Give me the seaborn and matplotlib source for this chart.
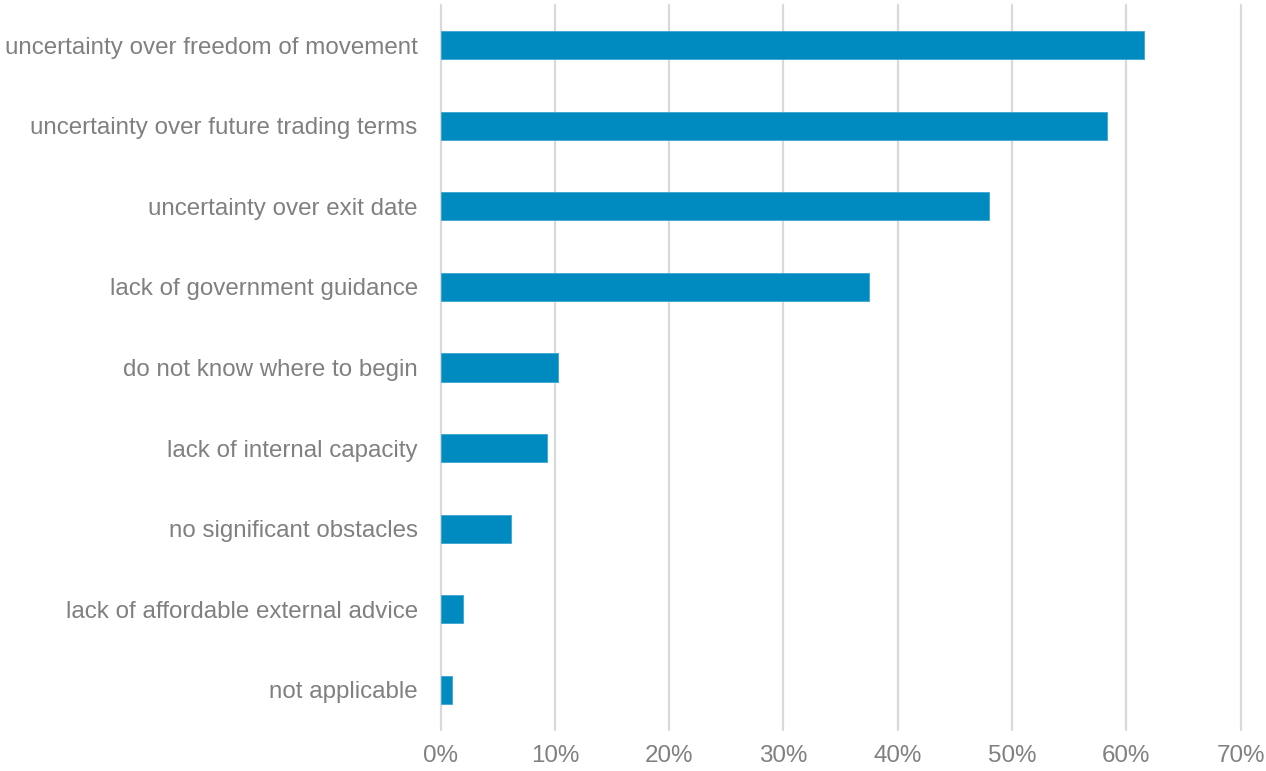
import matplotlib
matplotlib.use("Agg")
import matplotlib.pyplot as plt
from matplotlib.ticker import PercentFormatter
import seaborn as sns
import pandas as pd

obstacles = [
    "uncertainty over freedom of movement",
    "uncertainty over future trading terms",
    "uncertainty over exit date",
    "lack of government guidance",
    "do not know where to begin",
    "lack of internal capacity",
    "no significant obstacles",
    "lack of affordable external advice",
    "not applicable",
]
share = [61.5, 58.3, 48.0, 37.5, 10.3, 9.3, 6.2, 2.0, 1.0]
x_ticks = [0, 10, 20, 30, 40, 50, 60, 70]

df = pd.DataFrame({"obstacle": obstacles, "share": share})

sns.set_theme(style="white")
plt.rcParams["font.family"] = ["Liberation Sans", "DejaVu Sans"]

fig = plt.figure(figsize=(12.66, 7.71), dpi=100)
ax = fig.add_axes([0.348, 0.0532, 0.632, 0.9403])

sns.barplot(data=df, x="share", y="obstacle", orient="h", color="#008bc0",
            saturation=1, width=0.35, edgecolor="#3aa6d2", linewidth=0.6,
            ax=ax, zorder=3)

ax.set_xlim(0, 70)
ax.set_ylim(len(obstacles) - 0.5, -0.5)
ax.set_xticks(x_ticks)
ax.xaxis.set_major_formatter(PercentFormatter(decimals=0))
ax.grid(axis="x", color="#d9d9d9", linewidth=1.6, zorder=0)
ax.grid(axis="y", visible=False)
for gl in ax.get_xgridlines():
    gl.set_clip_on(False)
for s in ax.spines.values():
    s.set_visible(False)
ax.set_xlabel("")
ax.set_ylabel("")
ax.tick_params(axis="both", length=0, labelsize=17.4, colors="#808080")
ax.tick_params(axis="y", pad=16.5)
ax.tick_params(axis="x", pad=11)

fig.savefig("out.png", dpi=100)
